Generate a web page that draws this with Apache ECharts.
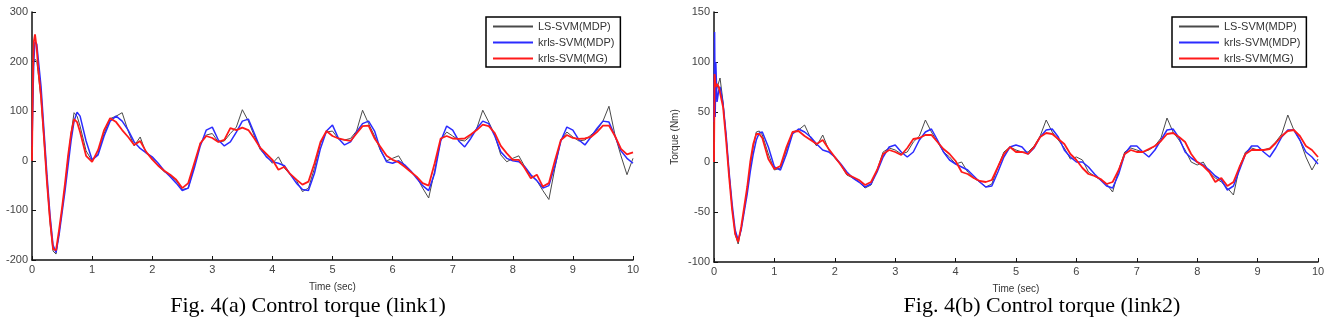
<!DOCTYPE html>
<html>
<head>
<meta charset="utf-8">
<script src="https://cdn.jsdelivr.net/npm/echarts@6/dist/echarts.min.js"></script>
<style>
html,body{margin:0;padding:0;background:#fff;}
#c{width:1331px;height:318px;}
</style>
</head>
<body>
<div id="c"></div>
<script>
// time samples (sec)
var time = [0,0.01,0.02,0.03,0.05,0.08,0.1,0.15,0.2,0.25,0.3,0.35,0.4,0.45,0.5,0.55,0.6,0.65,0.7,0.75,0.8,
 0.9,1.0,1.1,1.2,1.3,1.4,1.5,1.6,1.7,1.8,1.9,
 2.0,2.1,2.2,2.3,2.4,2.5,2.6,2.7,2.8,2.9,
 3.0,3.1,3.2,3.3,3.4,3.5,3.6,3.7,3.8,3.9,
 4.0,4.1,4.2,4.3,4.4,4.5,4.6,4.7,4.8,4.9,
 5.0,5.1,5.2,5.3,5.4,5.5,5.6,5.7,5.8,5.9,
 6.0,6.1,6.2,6.3,6.4,6.5,6.6,6.7,6.8,6.9,
 7.0,7.1,7.2,7.3,7.4,7.5,7.6,7.7,7.8,7.9,
 8.0,8.1,8.2,8.3,8.4,8.5,8.6,8.7,8.8,8.9,
 9.0,9.1,9.2,9.3,9.4,9.5,9.6,9.7,9.8,9.9,10.0];

var seriesNames = ['LS-SVM(MDP)','krls-SVM(MDP)','krls-SVM(MG)'];

// Fig 4(a) link1
var lsA = [0,100,180,200,205,200,180,125,40,-45,-125,-182,-188,-145,-98,-50,5,55,97,90,70,
 20,0,15,55,85,90,97,60,30,48,15,
 5,-10,-22,-30,-40,-58,-55,-10,35,52,
 55,38,40,55,68,103,80,50,22,10,
 -5,8,-15,-28,-40,-62,-55,-15,35,58,
 60,44,42,45,60,102,75,50,20,0,
 5,10,-10,-22,-32,-55,-75,-20,42,58,
 50,42,40,50,65,102,78,52,12,-2,
 5,10,-12,-30,-40,-60,-78,-15,42,58,
 48,40,42,52,62,80,110,52,10,-28,5];
var krlsA = [30,90,150,200,240,235,210,150,60,-30,-110,-170,-185,-150,-105,-60,-10,40,80,98,90,
 40,2,12,50,80,90,80,62,38,25,16,
 8,-5,-20,-32,-45,-60,-55,-15,30,62,
 68,42,30,38,58,80,84,55,25,8,
 -2,-5,-10,-28,-45,-58,-60,-25,25,60,
 72,45,32,38,58,75,80,60,22,-2,
 -5,0,-8,-20,-35,-50,-60,-25,40,70,
 62,40,28,45,65,80,75,50,18,5,
 0,-2,-12,-28,-40,-55,-50,-10,40,68,
 62,42,32,48,65,80,78,50,20,5,-5];
var mgA = [0,120,200,240,255,225,190,130,45,-45,-120,-178,-180,-140,-95,-45,10,55,84,78,58,
 10,-2,22,62,86,78,62,48,32,40,18,
 3,-10,-20,-28,-38,-55,-45,-5,35,50,
 46,38,42,66,62,67,62,45,26,14,
 2,-18,-12,-27,-38,-48,-42,-5,38,60,
 50,45,42,40,55,70,71,45,28,10,
 2,-3,-12,-22,-32,-45,-50,-5,45,50,
 45,44,45,53,62,73,70,56,30,15,
 2,2,-15,-35,-28,-52,-45,0,42,52,
 46,44,45,48,58,71,71,50,24,13,17];

// Fig 4(b) link2
var lsB = [0,50,65,70,72,80,84,60,25,-12,-46,-72,-82,-66,-48,-28,-5,15,30,31,27,
 8,-8,-6,12,30,32,37,24,16,27,12,
 4,-3,-13,-16,-20,-26,-23,-8,10,14,
 12,8,10,20,26,42,30,20,10,5,
 -2,0,-10,-16,-20,-25,-22,-5,10,15,
 12,10,10,16,26,42,30,22,14,3,
 5,2,-10,-14,-18,-22,-30,-8,10,14,
 12,10,12,16,24,44,30,22,12,0,
 -3,0,-10,-16,-20,-26,-33,-5,10,14,
 12,12,14,20,28,47,32,22,5,-8,3];
var krlsB = [40,130,45,100,60,72,75,58,28,-10,-42,-68,-78,-68,-50,-32,-10,8,22,29,30,
 15,-5,-8,8,28,33,30,25,18,12,10,
 5,-2,-10,-16,-20,-25,-22,-10,5,15,
 17,10,5,10,22,30,33,22,10,2,
 -2,-5,-8,-14,-20,-25,-24,-10,5,15,
 17,15,8,14,25,32,33,25,12,5,
 0,0,-5,-12,-18,-24,-26,-12,8,16,
 16,10,5,12,22,32,33,24,10,4,
 0,-3,-8,-14,-18,-28,-24,-8,8,16,
 16,10,5,14,25,32,32,22,10,5,-2];
var mgB = [0,88,80,75,78,75,74,55,22,-15,-48,-72,-80,-65,-45,-25,0,18,28,28,24,
 3,-7,-4,15,30,31,26,22,18,22,13,
 5,-3,-12,-15,-18,-23,-20,-8,8,12,
 10,7,14,23,24,27,27,20,13,8,
 1,-10,-12,-16,-19,-20,-18,-5,8,15,
 10,10,8,15,25,29,28,23,18,8,
 2,-6,-12,-14,-17,-22,-20,-8,8,12,
 10,10,13,16,21,28,29,25,20,8,
 0,-4,-10,-20,-16,-24,-20,-5,8,12,
 12,12,13,19,26,31,32,26,16,12,5];

// axis ticks
var xTicks = [0,1,2,3,4,5,6,7,8,9,10];
var yTicksA = [-200,-100,0,100,200,300];
var yTicksB = [-100,-50,0,50,100,150];

function pairs(vals){ return time.map(function(t,i){ return [t, vals[i]]; }); }

var colors = ['#4a4a4a', '#2b2bff', '#ff1a1a'];
var widths = [1, 1.5, 1.8];

var chart = echarts.init(document.getElementById('c'), null, {renderer:'canvas'});

function xAx(gi){
  return {
    type:'value', gridIndex:gi, min:xTicks[0], max:xTicks[xTicks.length-1], interval:1,
    name:'Time (sec)', nameLocation:'middle', nameGap:22,
    nameTextStyle:{fontFamily:'Liberation Sans', fontSize:10, color:'#333'},
    axisLine:{onZero:false, lineStyle:{color:'#111', width:1.5}},
    axisTick:{inside:true, length:4, lineStyle:{color:'#111', width:1}},
    axisLabel:{fontFamily:'Liberation Sans', fontSize:11, color:'#444', margin:4},
    splitLine:{show:false}
  };
}
function yAx(gi, ticks, name){
  var o = {
    type:'value', gridIndex:gi, min:ticks[0], max:ticks[ticks.length-1], interval:ticks[1]-ticks[0],
    axisLine:{show:true, onZero:false, lineStyle:{color:'#111', width:1.5}},
    axisTick:{show:true, inside:true, length:4, lineStyle:{color:'#111', width:1}},
    axisLabel:{fontFamily:'Liberation Sans', fontSize:11, color:'#444', margin:4},
    splitLine:{show:false}
  };
  if(name){
    o.name = name; o.nameLocation='middle'; o.nameGap=34;
    o.nameTextStyle={fontFamily:'Liberation Sans', fontSize:10, color:'#333'};
  }
  return o;
}

var dataSets = [[lsA, krlsA, mgA],[lsB, krlsB, mgB]];
var series = [];
for (var g=0; g<2; g++){
  for (var s=0; s<3; s++){
    series.push({
      type:'line', name:seriesNames[s], xAxisIndex:g, yAxisIndex:g,
      data:pairs(dataSets[g][s]), symbol:'none', smooth:false, animation:false,
      lineStyle:{color:colors[s], width:widths[s]}, itemStyle:{color:colors[s]}, z:2+s
    });
  }
}

function legend(left){
  return {
    left:left, top:17, orient:'vertical', itemWidth:40, itemHeight:2, itemGap:5, icon:'rect',
    padding:[4,6,3,7], backgroundColor:'#fff', borderColor:'#000', borderWidth:1.5, borderRadius:0,
    textStyle:{fontFamily:'Liberation Sans', fontSize:11, color:'#333'},
    selectedMode:false, data:seriesNames
  };
}

chart.setOption({
  animation:false,
  backgroundColor:'#fff',
  grid:[
    {left:32, top:12, width:601, height:248, containLabel:false, outerBoundsMode:'none'},
    {left:714, top:12, width:604, height:250, containLabel:false, outerBoundsMode:'none'}
  ],
  xAxis:[xAx(0), xAx(1)],
  yAxis:[yAx(0, yTicksA), yAx(1, yTicksB, 'Torque (Nm)')],
  legend:[legend(486), legend(1172)],
  series:series,
  graphic:[
    {type:'text', x:308, y:306, style:{text:'Fig. 4(a) Control torque (link1)', font:'22px "Liberation Serif"', fill:'#000', textAlign:'center', textVerticalAlign:'middle'}},
    {type:'text', x:1042, y:306, style:{text:'Fig. 4(b) Control torque (link2)', font:'22px "Liberation Serif"', fill:'#000', textAlign:'center', textVerticalAlign:'middle'}}
  ]
});
</script>
</body>
</html>
